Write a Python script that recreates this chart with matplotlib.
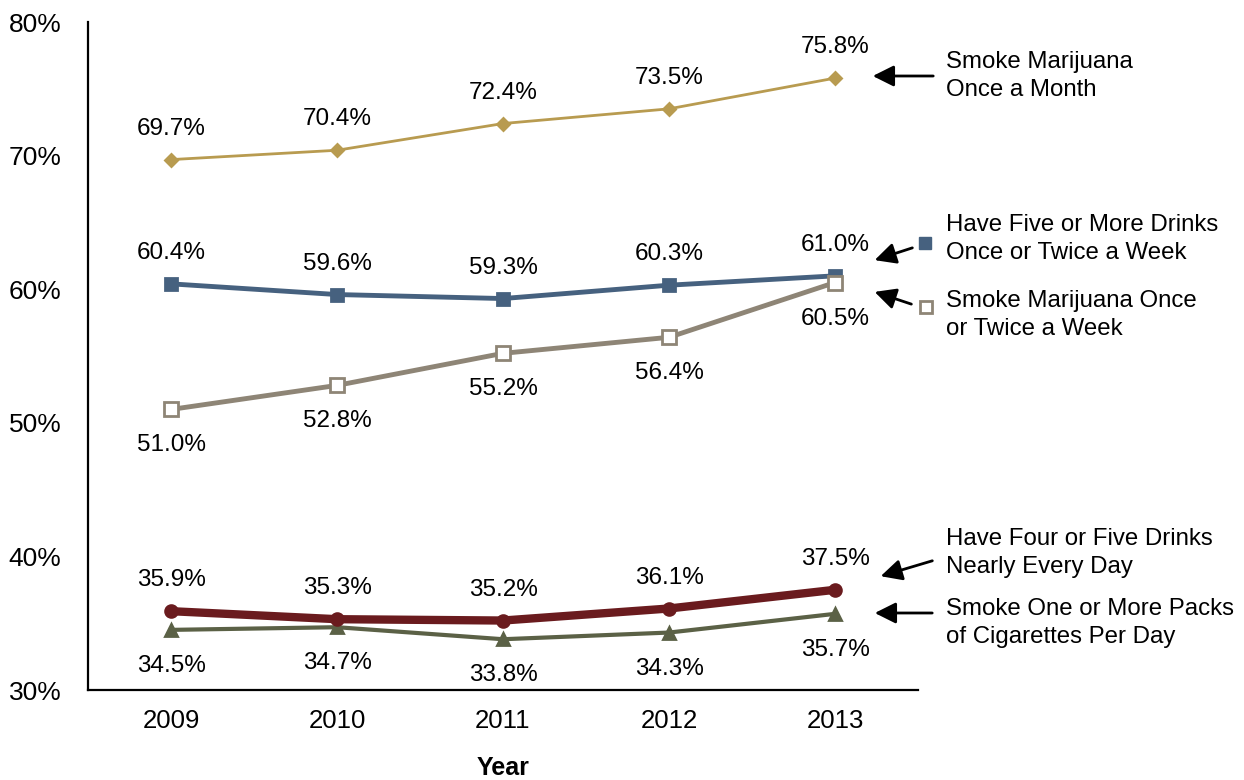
import matplotlib
matplotlib.use("Agg")
import matplotlib.pyplot as plt
from matplotlib.lines import Line2D

plt.rcParams['font.family'] = ['Liberation Sans', 'DejaVu Sans']

# Datos
anios = ['2009', '2010', '2011', '2012', '2013']
marihuana_mes = [69.7, 70.4, 72.4, 73.5, 75.8]
cinco_tragos = [60.4, 59.6, 59.3, 60.3, 61.0]
marihuana_semana = [51.0, 52.8, 55.2, 56.4, 60.5]
cuatro_tragos = [35.9, 35.3, 35.2, 36.1, 37.5]
cigarrillos = [34.5, 34.7, 33.8, 34.3, 35.7]
y_ticks = [30, 40, 50, 60, 70, 80]

W, H = 1244, 780
fig = plt.figure(figsize=(W / 100, H / 100), dpi=100)
ax = fig.add_axes([88 / W, 1 - 690 / H, 830 / W, (690 - 22) / H])

x = list(range(len(anios)))

# (valores, color, marcador, tam, ancho linea, cara, posicion etiqueta, z)
series = [
    (cigarrillos, '#5B6146', '^', 9, 3.0, '#5B6146', 'abajo', 2),
    (cuatro_tragos, '#6A1B1E', 'o', 8.5, 6.0, '#6A1B1E', 'arriba', 3),
    (cinco_tragos, '#46617F', 's', 8, 3.5, '#46617F', 'arriba', 4),
    (marihuana_semana, '#8E8576', 's', 10, 3.5, 'white', 'abajo', 5),
    (marihuana_mes, '#B89B50', 'D', 6.5, 2.0, '#B89B50', 'arriba', 6),
]

for valores, color, marca, tam, lw, cara, pos, z in series:
    ax.plot(x, valores, color=color, lw=lw, marker=marca, markersize=tam,
            markerfacecolor=cara, markeredgecolor=color, markeredgewidth=2,
            zorder=z, clip_on=False)
    for xi, v in zip(x, valores):
        dy = 31 if pos == 'arriba' else -36
        ax.annotate('%.1f%%' % v, (xi, v), xytext=(0, dy), textcoords='offset pixels',
                    ha='center', va='center', fontsize=17.5, color='black')

ax.set_xlim(-0.5, 4.5)
ax.set_ylim(30, 80)
ax.set_xticks(x)
ax.set_xticklabels(anios, fontsize=18.5)
ax.set_yticks(y_ticks)
ax.set_yticklabels(['%d%%' % t for t in y_ticks], fontsize=19)
ax.tick_params(axis='both', length=0)
ax.tick_params(axis='x', pad=14)
ax.tick_params(axis='y', pad=19)
for lado in ['top', 'right']:
    ax.spines[lado].set_visible(False)
for lado in ['left', 'bottom']:
    ax.spines[lado].set_linewidth(1.6)
    ax.spines[lado].set_color('black')

fig.text(503 / W, 1 - 768 / H, 'Year', ha='center', va='center', fontsize=18,
         fontweight='bold')


# Etiquetas de la derecha con flechas
def px(xp, yp):
    return (xp / W, 1 - yp / H)


etiquetas = [
    ('Smoke Marijuana\nOnce a Month', 76, (936, 76), (870, 76)),
    ('Have Five or More Drinks\nOnce or Twice a Week', 239, (915, 247), (872, 261)),
    ('Smoke Marijuana Once\nor Twice a Week', 315, (914, 305), (872, 291)),
    ('Have Four or Five Drinks\nNearly Every Day', 553, (935, 560), (878, 577)),
    ('Smoke One or More Packs\nof Cigarettes Per Day', 623, (935, 613), (872, 613)),
]
for texto, yc, inicio, fin in etiquetas:
    fig.text(946 / W, 1 - yc / H, texto, ha='left', va='center', fontsize=17.3,
             linespacing=1.33)
    fig.patches.append(matplotlib.patches.FancyArrowPatch(
        px(*inicio), px(*fin), transform=fig.transFigure, arrowstyle='-|>',
        mutation_scale=32, lw=2, color='black'))

fig.lines.append(Line2D([925 / W], [1 - 243 / H], transform=fig.transFigure,
                        marker='s', markersize=8, color='#46617F', lw=0))
fig.lines.append(Line2D([926 / W], [1 - 307 / H], transform=fig.transFigure,
                        marker='s', markersize=9, markerfacecolor='white',
                        markeredgecolor='#8E8576', markeredgewidth=2, lw=0))

fig.savefig('out.png', dpi=100)
